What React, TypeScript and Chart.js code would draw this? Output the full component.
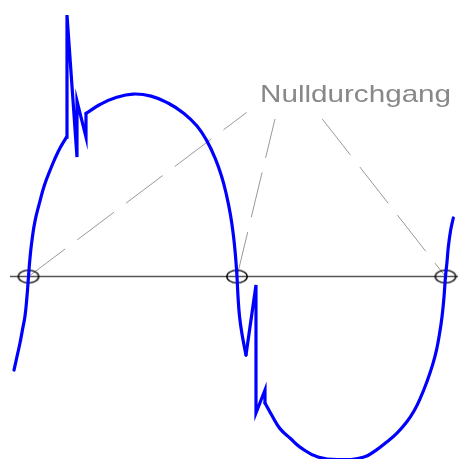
import React, { useEffect, useRef } from 'react';
import { Chart, registerables } from 'chart.js';

Chart.register(...registerables);

// Phase angle in degrees (0°, 180°, 360° = zero crossings), amplitude normalised to 1
const riseDeg = [-12.52, -9.93, -7.34, -5.18, -3.02, -1.29, 0, 1.29, 3.02, 5.61, 9.5, 13.81, 19.42, 25.9, 32.81];
const riseAmp = [-0.511, -0.437, -0.363, -0.29, -0.216, -0.107, 0, 0.101, 0.199, 0.303, 0.402, 0.5, 0.593, 0.686, 0.762];

const spikeUpDeg = [32.81, 33.24, 41.87, 41.87, 49.64, 49.64];
const spikeUpAmp = [0.762, 1.429, 0.653, 0.959, 0.762, 0.891];

const posArcDeg = [49.64, 61.73, 75.54, 90.22, 105.76, 120.43, 134.25, 145.47, 154.1, 161.01, 166.62, 170.94, 174.39, 176.98, 178.71, 180, 180.86, 182.16, 184.32, 187.77];
const posArcAmp = [0.891, 0.94, 0.978, 0.997, 0.986, 0.948, 0.891, 0.822, 0.74, 0.648, 0.549, 0.445, 0.336, 0.221, 0.112, 0, -0.107, -0.216, -0.314, -0.429];

const spikeDownDeg = [187.77, 196.4, 196.4, 204.17, 204.17];
const spikeDownAmp = [-0.429, -0.046, -0.746, -0.62, -0.691];

const negArcDeg = [204.17, 210.65, 217.12, 226.19, 234.39, 249.93, 269.78, 289.64, 299.57, 309.24, 318.13, 326.5, 332.81, 337.99, 344.46, 348.78, 352.23, 354.82, 356.98, 358.71, 360, 361.29, 362.42, 364.49, 366.73];
const negArcAmp = [-0.691, -0.765, -0.831, -0.885, -0.932, -0.986, -1.0, -0.986, -0.951, -0.904, -0.855, -0.795, -0.735, -0.669, -0.566, -0.484, -0.402, -0.314, -0.221, -0.112, 0, 0.079, 0.161, 0.254, 0.32];

const zeroCrossings = [0, 180, 360];
const axisDeg = [-16, 375];

const labelText = 'Nulldurchgang';
const labelDeg = 199.9;
const labelAmp = 0.956;

// leader lines: [startDeg, startAmp, endDeg, endAmp]
const leader1 = [0, 0, 188.4, 0.897];
const leader2 = [180, 0, 212.8, 0.861];
const leader3 = [253.6, 0.861, 360, 0];

const xMin = -24.6;
const xMax = 370.8;
const yMin = -0.997;
const yMax = 1.511;

export default function App() {
  const ref = useRef<HTMLCanvasElement>(null);

  useEffect(() => {
    const canvas = ref.current;
    if (!canvas) return;

    const ring = document.createElement('canvas');
    ring.width = 24;
    ring.height = 16;
    const rc = ring.getContext('2d')!;
    rc.strokeStyle = '#000000';
    rc.lineWidth = 1.4;
    rc.beginPath();
    rc.ellipse(12, 8, 10.2, 6.4, 0, 0, Math.PI * 2);
    rc.stroke();

    const toPts = (xs: number[], ys: number[]) => xs.map((x, i) => ({ x, y: ys[i] }));
    const blue = (xs: number[], ys: number[], smooth: boolean) => ({
      data: toPts(xs, ys),
      borderColor: '#0000ff',
      borderWidth: 3.2,
      tension: smooth ? 0.45 : 0,
      pointRadius: 0,
      order: 1,
      borderCapStyle: 'round',
      borderJoinStyle: 'miter',
      fill: false,
    });
    const leader = (l: number[]) => ({
      data: [{ x: l[0], y: l[1] }, { x: l[2], y: l[3] }],
      borderColor: '#999999',
      borderWidth: 1,
      borderDash: [46, 15],
      pointRadius: 0,
      tension: 0,
      order: 3,
      fill: false,
    });

    const labelPlugin = {
      id: 'nullLabel',
      afterDatasetsDraw(chart: any) {
        const { ctx, scales } = chart;
        const px = scales.x.getPixelForValue(labelDeg);
        const py = scales.y.getPixelForValue(labelAmp);
        ctx.save();
        ctx.font = '24px "Liberation Sans", Arial, sans-serif';
        ctx.fillStyle = '#888888';
        ctx.textBaseline = 'alphabetic';
        ctx.textAlign = 'left';
        const w = ctx.measureText(labelText).width;
        ctx.translate(px, py);
        ctx.scale(191 / w, 1);
        ctx.fillText(labelText, 0, 0);
        ctx.restore();
      },
    };

    const chart = new Chart(canvas, {
      type: 'line',
      data: {
        datasets: [
          blue(riseDeg, riseAmp, true),
          blue(spikeUpDeg, spikeUpAmp, false),
          blue(posArcDeg, posArcAmp, true),
          blue(spikeDownDeg, spikeDownAmp, false),
          blue(negArcDeg, negArcAmp, true),
          {
            data: zeroCrossings.map((x) => ({ x, y: 0 })),
            showLine: false,
            pointStyle: ring,
            pointRadius: 8,
            pointHoverRadius: 8,
            order: 2,
          },
          leader(leader1),
          leader(leader2),
          leader(leader3),
          {
            data: axisDeg.map((x) => ({ x, y: 0 })),
            borderColor: '#555555',
            borderWidth: 1.5,
            pointRadius: 0,
            tension: 0,
            order: 4,
            fill: false,
          },
        ] as any,
      },
      options: {
        animation: false,
        responsive: false,
        maintainAspectRatio: false,
        layout: { padding: 0, autoPadding: false },
        events: [],
        plugins: {
          legend: { display: false },
          tooltip: { enabled: false },
          title: { display: false },
        },
        scales: {
          x: { type: 'linear', min: xMin, max: xMax, display: false },
          y: { type: 'linear', min: yMin, max: yMax, display: false },
        },
      } as any,
      plugins: [labelPlugin],
    });

    return () => chart.destroy();
  }, []);

  return (
    <div style={{ position: 'fixed', left: 0, top: 0, width: 458, height: 459, background: '#ffffff' }}>
      <canvas ref={ref} width={458} height={459} style={{ display: 'block', width: 458, height: 459 }} />
    </div>
  );
}
